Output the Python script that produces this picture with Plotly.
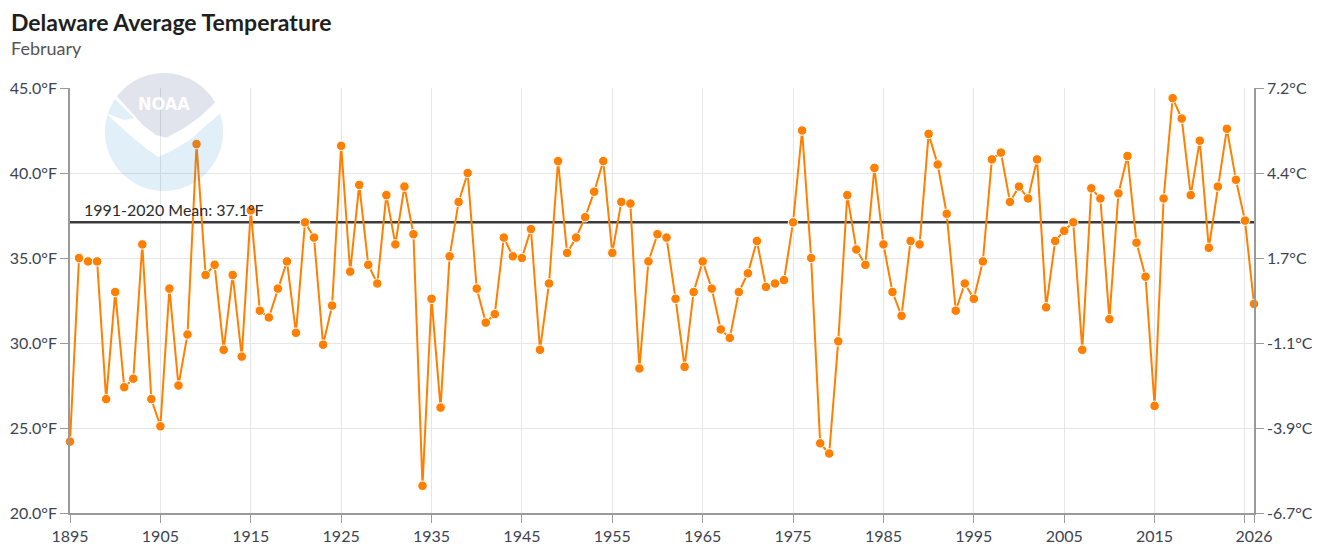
import numpy as np
import plotly.graph_objects as go

# ---------------- data ----------------
years = list(range(1895, 2027))
temps_f = [
    24.2, 35.0, 34.8, 34.8, 26.7, 33.0, 27.4, 27.9, 35.8, 26.7,   # 1895-1904
    25.1, 33.2, 27.5, 30.5, 41.7, 34.0, 34.6, 29.6, 34.0, 29.2,   # 1905-1914
    37.8, 31.9, 31.5, 33.2, 34.8, 30.6, 37.1, 36.2, 29.9, 32.2,   # 1915-1924
    41.6, 34.2, 39.3, 34.6, 33.5, 38.7, 35.8, 39.2, 36.4, 21.6,   # 1925-1934
    32.6, 26.2, 35.1, 38.3, 40.0, 33.2, 31.2, 31.7, 36.2, 35.1,   # 1935-1944
    35.0, 36.7, 29.6, 33.5, 40.7, 35.3, 36.2, 37.4, 38.9, 40.7,   # 1945-1954
    35.3, 38.3, 38.2, 28.5, 34.8, 36.4, 36.2, 32.6, 28.6, 33.0,   # 1955-1964
    34.8, 33.2, 30.8, 30.3, 33.0, 34.1, 36.0, 33.3, 33.5, 33.7,   # 1965-1974
    37.1, 42.5, 35.0, 24.1, 23.5, 30.1, 38.7, 35.5, 34.6, 40.3,   # 1975-1984
    35.8, 33.0, 31.6, 36.0, 35.8, 42.3, 40.5, 37.6, 31.9, 33.5,   # 1985-1994
    32.6, 34.8, 40.8, 41.2, 38.3, 39.2, 38.5, 40.8, 32.1, 36.0,   # 1995-2004
    36.6, 37.1, 29.6, 39.1, 38.5, 31.4, 38.8, 41.0, 35.9, 33.9,   # 2005-2014
    26.3, 38.5, 44.4, 43.2, 38.7, 41.9, 35.6, 39.2, 42.6, 39.6,   # 2015-2024
    37.2, 32.3,                                                   # 2025-2026
]
mean_value = 37.1
mean_label = "1991-2020 Mean: 37.1°F"

f_ticks = [20, 25, 30, 35, 40, 45]
f_labels = ["20.0°F", "25.0°F", "30.0°F", "35.0°F", "40.0°F", "45.0°F"]
c_labels = ["-6.7°C", "-3.9°C", "-1.1°C", "1.7°C", "4.4°C", "7.2°C"]
x_ticks = [1895, 1905, 1915, 1925, 1935, 1945, 1955, 1965, 1975, 1985, 1995, 2005, 2015, 2025, 2026]
x_labels = ["1895", "1905", "1915", "1925", "1935", "1945", "1955", "1965", "1975",
            "1985", "1995", "2005", "2015", "", "2026"]

title_text = "Delaware Average Temperature"
subtitle_text = "February"

# ---------------- styles ----------------
FONT = "Lato, 'Source Sans Pro', 'Open Sans', sans-serif"
TXT = "#3d4451"
GRID = "#e6e6e6"
AXIS = "#9a9a9a"
ORANGE = "#ff8000"

# page body has an 8px default margin, so the figure is sized/offset to compensate
W, H = 1312, 542
ML, MR, MT, MB = 62, 66, 80, 37
PW, PH = W - ML - MR, H - MT - MB

fig = go.Figure()

# mean line (left axis)
fig.add_trace(go.Scatter(
    x=[years[0], years[-1]], y=[mean_value, mean_value],
    mode="lines", line=dict(color="#3b3b3b", width=2.5),
    hoverinfo="skip", showlegend=False, yaxis="y",
))

# temperature series (right overlay axis with identical range -> drawn above)
fig.add_trace(go.Scatter(
    x=years, y=temps_f, mode="lines+markers",
    line=dict(color=ORANGE, width=2),
    marker=dict(size=9.5, color=ORANGE, line=dict(color="white", width=1)),
    cliponaxis=False, showlegend=False, yaxis="y2",
))

# ---------------- NOAA-like logo (decoration, paper-anchored so it is not clipped) ----------------
def arc(a0, a1, r=59, n=40):
    t = np.radians(np.linspace(a0, a1, n))
    return [(r * np.cos(a), r * np.sin(a)) for a in t]

def path_from(points):
    return "M " + " L ".join(f"{x:.1f},{y:.1f}" for x, y in points) + " Z"

cap_pts = arc(143, 30) + [(35.7, 15), (19, 3.3), (2.3, -5.7), (-8, -3), (-21, 6.7), (-34.3, 21.7)]
bottom_pts = arc(18, -197) + [(-37.7, 0), (-17.7, -16.7), (-6, -25), (5.7, -20), (25.7, -8.3), (42.3, 6.7)]
wing_pts = arc(146, 162, n=8) + [(-40, 12), (-30, 14)]

logo_px, logo_py = 164 - 70, 132 - 88          # centre in pixels from plot top-left
anchor_x = logo_px / PW
anchor_y = 1 - logo_py / PH
for pts, col in [(cap_pts, "#2a3f78"), (bottom_pts, "#2a8fd8"), (wing_pts, "#2a8fd8")]:
    fig.add_shape(
        type="path", path=path_from(pts),
        xref="paper", yref="paper", xsizemode="pixel", ysizemode="pixel",
        xanchor=anchor_x, yanchor=anchor_y,
        fillcolor=col, opacity=0.14, line=dict(width=0), layer="above",
    )

fig.add_annotation(
    x=anchor_x, y=anchor_y, xref="paper", yref="paper", yshift=29,
    xanchor="center", yanchor="middle",
    text="<b>NOAA</b>", showarrow=False,
    font=dict(family="'DejaVu Sans Condensed', 'DejaVu Sans', sans-serif", size=18, color="white"),
    opacity=0.95,
)

# ---------------- annotations ----------------
fig.add_annotation(
    x=years[0], y=mean_value, xref="x", yref="y",
    xanchor="left", yanchor="bottom", xshift=12, yshift=1,
    text=mean_label, showarrow=False,
    font=dict(family=FONT, size=16, color="#2b2b2b"),
)
fig.add_annotation(
    x=-58 / PW, y=1 + (88 - 22) / PH, xref="paper", yref="paper",
    xanchor="left", yanchor="middle", xshift=-3, text=f"<b>{title_text}</b>", showarrow=False,
    font=dict(family=FONT, size=23, color="#1f1f1f"),
)
fig.add_annotation(
    x=-58 / PW, y=1 + (88 - 48) / PH, xref="paper", yref="paper",
    xanchor="left", yanchor="middle", xshift=-3, text=subtitle_text, showarrow=False,
    font=dict(family=FONT, size=18, color="#555555"),
)

# ---------------- axes / layout ----------------
axis_common = dict(
    zeroline=False, showline=True, linecolor=AXIS, linewidth=1.5,
    ticks="outside", ticklen=8, tickcolor=AXIS, tickwidth=1,
    tickfont=dict(family=FONT, size=16, color=TXT), automargin=False,
)
fig.update_layout(
    width=W, height=H,
    margin=dict(l=ML, r=MR, t=MT, b=MB, pad=0),
    paper_bgcolor="white", plot_bgcolor="white",
    font=dict(family=FONT, size=16, color=TXT),
    showlegend=False,
    xaxis=dict(
        range=[years[0], years[-1]], tickmode="array", tickvals=x_ticks, ticktext=x_labels,
        showgrid=True, gridcolor=GRID, gridwidth=1, **axis_common,
    ),
    yaxis=dict(
        range=[20, 45], tickmode="array", tickvals=f_ticks, ticktext=f_labels,
        showgrid=True, gridcolor=GRID, gridwidth=1, **axis_common,
    ),
    yaxis2=dict(
        range=[20, 45], overlaying="y", side="right", tickmode="array",
        tickvals=f_ticks, ticktext=c_labels, showgrid=False, **axis_common,
    ),
)

fig.write_html("out.html")
